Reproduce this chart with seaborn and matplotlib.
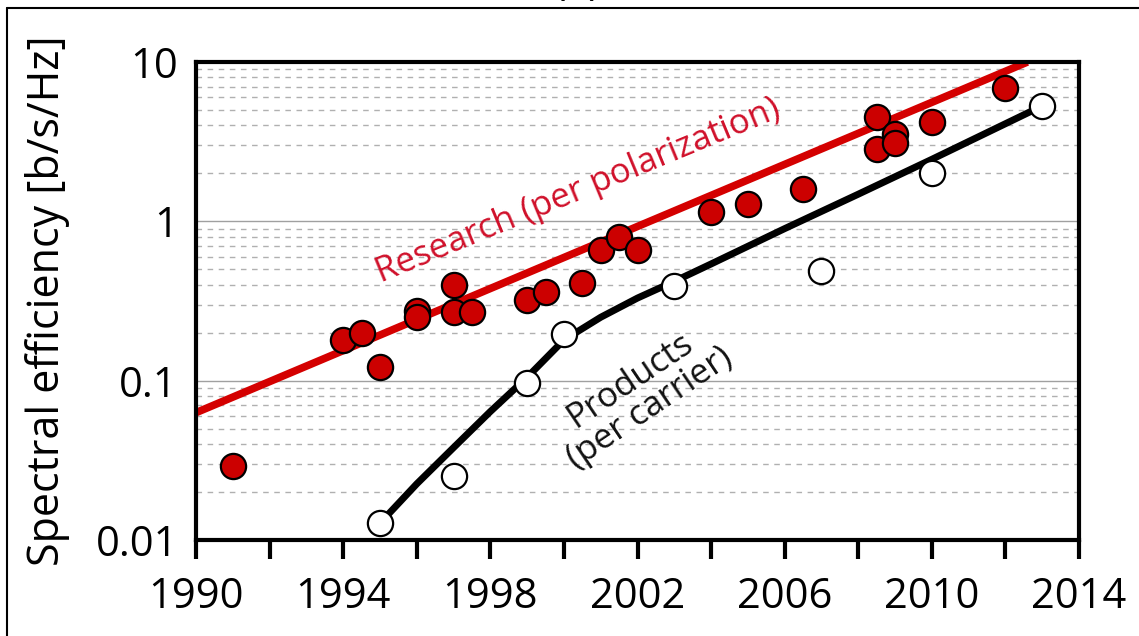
import matplotlib
matplotlib.use("Agg")
import matplotlib.pyplot as plt
import matplotlib.ticker as mticker
from matplotlib.lines import Line2D
import seaborn as sns
import pandas as pd

# ---- data ----
research_years = [1991, 1994, 1994.5, 1995, 1996, 1996, 1997, 1997, 1997.5,
                  1999, 1999.5, 2000.5, 2001, 2001.5, 2002, 2004, 2005, 2006.5,
                  2008.5, 2008.5, 2009, 2009, 2010, 2012]
research_vals = [0.029, 0.18, 0.2, 0.122, 0.275, 0.25, 0.40, 0.27, 0.27,
                 0.32, 0.36, 0.41, 0.66, 0.80, 0.66, 1.14, 1.28, 1.6,
                 4.5, 2.85, 3.55, 3.1, 4.2, 6.9]

product_years = [1995, 1997, 1999, 2000, 2003, 2007, 2010, 2013]
product_vals = [0.0128, 0.0253, 0.097, 0.195, 0.39, 0.49, 2.0, 5.3]

research_fit_years = [1990, 2012.6]
research_fit_vals = [0.063, 10.0]

product_fit_years = [1995.1, 1996, 1997, 1998, 1999, 2000, 2001, 2002, 2003,
                     2004, 2006, 2008, 2010, 2013]
product_fit_vals = [0.0135, 0.0225, 0.038, 0.064, 0.105, 0.18, 0.25, 0.33, 0.42,
                    0.54, 0.9, 1.48, 2.45, 5.3]

x_ticks_major = [1990, 1994, 1998, 2002, 2006, 2010, 2014]
x_ticks_minor = [1992, 1996, 2000, 2004, 2008, 2012]
y_ticks = [0.01, 0.1, 1, 10]
y_ticklabels = ["0.01", "0.1", "1", "10"]

sns.set_style("white")
plt.rcParams["font.family"] = ["Open Sans", "DejaVu Sans"]
plt.rcParams["text.color"] = "black"
plt.rcParams["axes.labelcolor"] = "black"
plt.rcParams["xtick.color"] = "black"
plt.rcParams["ytick.color"] = "black"

RED = "#cc0000"
RED_LINE = "#d40000"
RED_TEXT = "#d0102a"

fig = plt.figure(figsize=(11.39, 6.36), dpi=100)
ax = fig.add_axes([196 / 1139, 1 - 540 / 636, (1079 - 196) / 1139, (540 - 62) / 636])
ax.set_yscale("log")
ax.set_xlim(1990, 2014)
ax.set_ylim(0.01, 10)

# grid
ax.yaxis.set_minor_locator(mticker.LogLocator(base=10, subs=range(2, 10)))
ax.yaxis.set_minor_formatter(mticker.NullFormatter())
ax.grid(which="minor", axis="y", linestyle=(0, (4, 4)), color="#b0b0b0", lw=1.0, zorder=0)
ax.grid(which="major", axis="y", linestyle="-", color="#a0a0a0", lw=1.0, zorder=0)
ax.grid(which="both", axis="x", visible=False)

df_rf = pd.DataFrame({"year": research_fit_years, "val": research_fit_vals})
df_pf = pd.DataFrame({"year": product_fit_years, "val": product_fit_vals})
df_r = pd.DataFrame({"year": research_years, "val": research_vals})
df_p = pd.DataFrame({"year": product_years, "val": product_vals})

sns.lineplot(data=df_rf, x="year", y="val", ax=ax, color=RED_LINE, lw=5.5,
             estimator=None, sort=False, zorder=2, solid_capstyle="butt")
sns.lineplot(data=df_pf, x="year", y="val", ax=ax, color="black", lw=5.0,
             estimator=None, sort=False, zorder=2, solid_capstyle="butt",
             solid_joinstyle="round")
sns.scatterplot(data=df_r, x="year", y="val", ax=ax, color=RED, edgecolor="black",
                linewidth=1.6, s=330, zorder=3, clip_on=False)
sns.scatterplot(data=df_p, x="year", y="val", ax=ax, color="white", edgecolor="black",
                linewidth=1.6, s=330, zorder=3, clip_on=False)

# ticks
ax.set_xticks(x_ticks_major)
ax.set_xticks(x_ticks_minor, minor=True)
ax.set_xticklabels([str(t) for t in x_ticks_major])
ax.set_yticks(y_ticks)
ax.set_yticklabels(y_ticklabels)
ax.tick_params(axis="x", which="both", direction="out", length=14, width=3,
               color="black", labelcolor="black", bottom=True, pad=12, labelsize=30)
ax.tick_params(axis="y", which="both", length=0, pad=13, labelsize=30, left=False,
               labelcolor="black")

for sp in ax.spines.values():
    sp.set_visible(True)
    sp.set_color("black")
    sp.set_linewidth(3)

ax.set_xlabel("")
ax.set_ylabel("Spectral efficiency [b/s/Hz]", fontsize=31, color="black")
ax.yaxis.set_label_coords((70 - 196) / 883, 0.5)

# annotations
ax.text(2000.38, 1.55, "Research (per polarization)", color=RED_TEXT, fontsize=25,
        rotation=22.5, ha="center", va="center", rotation_mode="anchor", zorder=4)
ax.text(2002.07, 0.0817, "Products\n(per carrier)", color="#111111", fontsize=25,
        rotation=34, ha="center", va="center", rotation_mode="anchor",
        multialignment="center", linespacing=1.0, zorder=4)

# outer frame of the figure
fig.add_artist(Line2D([7 / 1139, 1.0], [1 - 8 / 636, 1 - 8 / 636], color="black",
                      lw=1.5, transform=fig.transFigure))
fig.add_artist(Line2D([7 / 1139, 7 / 1139], [0.0, 1 - 8 / 636], color="black",
                      lw=1.5, transform=fig.transFigure))
fig.text(577 / 1139, 1 - 4 / 636, "(a)", ha="center", va="bottom", fontsize=30)

fig.savefig("out.png", dpi=100)
